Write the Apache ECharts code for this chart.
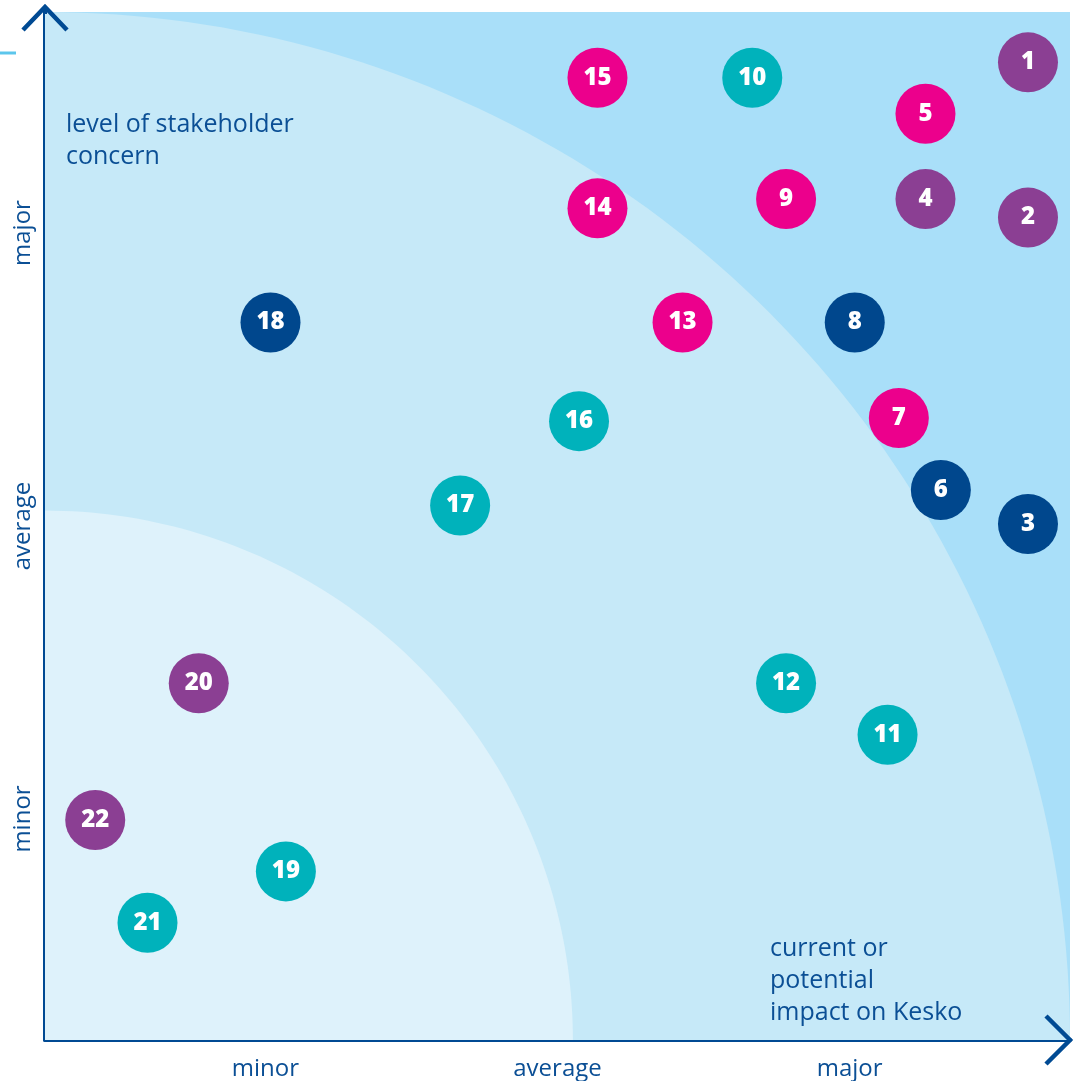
<!DOCTYPE html>
<html>
<head>
<meta charset="utf-8">
<script src="https://cdn.jsdelivr.net/npm/echarts@6/dist/echarts.min.js"></script>
<style>
  html, body { margin: 0; padding: 0; background: #fff; }
  #main { width: 1078px; height: 1081px; }
</style>
</head>
<body>
<div id="main"></div>
<script>
// topic numbers, impact on Kesko (x) and stakeholder concern (y), 0..10
var topics = ['1', '2', '3', '4', '5', '6', '7', '8', '9', '10', '11',
    '12', '13', '14', '15', '16', '17', '18', '19', '20', '21', '22'];
var impact = [9.59, 9.59, 9.59, 8.59, 8.59, 8.74, 8.33, 7.90, 7.23, 6.90, 8.22,
    7.23, 6.22, 5.39, 5.39, 5.21, 4.05, 2.20, 2.35, 1.50, 1.00, 0.49];
var concern = [9.51, 8.00, 5.02, 8.18, 9.01, 5.35, 6.05, 6.98, 8.18, 9.36, 2.97,
    3.47, 6.98, 8.09, 9.36, 6.02, 5.20, 6.98, 1.64, 3.47, 1.14, 2.14];
var groups = ['purple', 'purple', 'navy', 'purple', 'pink', 'navy', 'pink', 'navy', 'pink', 'teal', 'teal',
    'teal', 'pink', 'pink', 'pink', 'teal', 'teal', 'navy', 'teal', 'purple', 'teal', 'purple'];

var levelNames = ['minor', 'average', 'major'];
var levelValues = [2.15, 5.0, 7.85];

var zoneRadii = [10.0, 5.15];
var zoneColors = ['#c6e9f8', '#def2fb'];

var groupColors = { pink: '#ec008c', teal: '#00b2bb', purple: '#8b3f93', navy: '#00478d' };
var ink = '#0b4f95';
var axisBlue = '#004a93';

var chart = echarts.init(document.getElementById('main'));

var points = topics.map(function (t, i) {
    return {
        value: [impact[i], concern[i], t],
        itemStyle: { color: groupColors[groups[i]], opacity: 1 }
    };
});

function levelLabel(v) {
    for (var i = 0; i < levelValues.length; i++) {
        if (Math.abs(levelValues[i] - v) < 0.01) return levelNames[i];
    }
    return '';
}

var option = {
    backgroundColor: '#fff',
    textStyle: { fontFamily: 'Open Sans' },
    grid: {
        left: 45, right: 8, top: 12, bottom: 41,
        show: true, backgroundColor: '#a9dff9', borderWidth: 0
    },
    title: [{
        text: 'level of stakeholder\nconcern',
        left: 66, top: 109, padding: 0,
        textStyle: { color: ink, fontSize: 25, fontWeight: 'normal', lineHeight: 32, fontFamily: 'Open Sans' }
    }, {
        text: 'current or\npotential\nimpact on Kesko',
        left: 770, top: 933, padding: 0,
        textStyle: { color: ink, fontSize: 25, fontWeight: 'normal', lineHeight: 32, fontFamily: 'Open Sans' }
    }],
    graphic: [{
        type: 'line',
        shape: { x1: 0, y1: 53, x2: 16, y2: 53 },
        style: { stroke: '#5cc6ec', lineWidth: 3 }
    }],
    xAxis: {
        type: 'value', min: 0, max: 10,
        axisLine: { show: true, onZero: false, lineStyle: { color: axisBlue, width: 4 } },
        axisTick: { show: false },
        splitLine: { show: false },
        axisLabel: {
            customValues: levelValues,
            formatter: levelLabel,
            color: ink, fontSize: 24, margin: 17, fontFamily: 'Open Sans'
        }
    },
    yAxis: {
        type: 'value', min: 0, max: 10,
        axisLine: { show: true, onZero: false, lineStyle: { color: axisBlue, width: 4 } },
        axisTick: { show: false },
        splitLine: { show: false },
        axisLabel: {
            customValues: levelValues,
            formatter: levelLabel,
            rotate: 90,
            color: ink, fontSize: 24, margin: 10, fontFamily: 'Open Sans'
        }
    },
    series: [{
        // background zones: quarter circles around the origin
        type: 'custom',
        z: 1,
        silent: true,
        clip: true,
        data: zoneRadii.map(function (r, i) { return [r, i]; }),
        renderItem: function (params, api) {
            var r = api.value(0);
            var pts = [api.coord([0, 0])];
            for (var k = 0; k <= 90; k++) {
                var a = k * Math.PI / 180;
                pts.push(api.coord([r * Math.cos(a), r * Math.sin(a)]));
            }
            return {
                type: 'polygon',
                shape: { points: pts },
                style: { fill: zoneColors[api.value(1)], stroke: null }
            };
        }
    }, {
        // open chevron arrows at the axis ends
        type: 'custom',
        z: 4,
        silent: true,
        clip: false,
        data: [[10, 0, 0], [0, 10, 1]],
        renderItem: function (params, api) {
            var end = api.coord([api.value(0), api.value(1)]);
            var pts;
            if (api.value(2) === 0) {
                var tx = end[0], ty = end[1];
                pts = [[tx - 24, ty - 24], [tx, ty], [tx - 24, ty + 24]];
            } else {
                var ux = end[0], uy = end[1] - 5;
                pts = [[ux - 22, uy + 23], [ux, uy], [ux + 22, uy + 23]];
            }
            var children = [{
                type: 'polyline',
                shape: { points: pts },
                style: { stroke: axisBlue, lineWidth: 4.5, fill: null, lineJoin: 'miter' }
            }];
            if (api.value(2) === 1) {
                children.push({
                    type: 'line',
                    shape: { x1: end[0], y1: end[1] + 2, x2: end[0], y2: end[1] - 5 },
                    style: { stroke: axisBlue, lineWidth: 4 }
                });
            }
            return { type: 'group', children: children };
        }
    }, {
        type: 'scatter',
        z: 3,
        symbolSize: 60,
        data: points,
        label: {
            show: true,
            position: 'inside',
            formatter: function (p) { return p.value[2]; },
            color: '#fff',
            fontSize: 24,
            fontWeight: 800,
            fontFamily: 'Open Sans'
        },
        emphasis: { disabled: true }
    }]
};
chart.setOption(option);
</script>
</body>
</html>
